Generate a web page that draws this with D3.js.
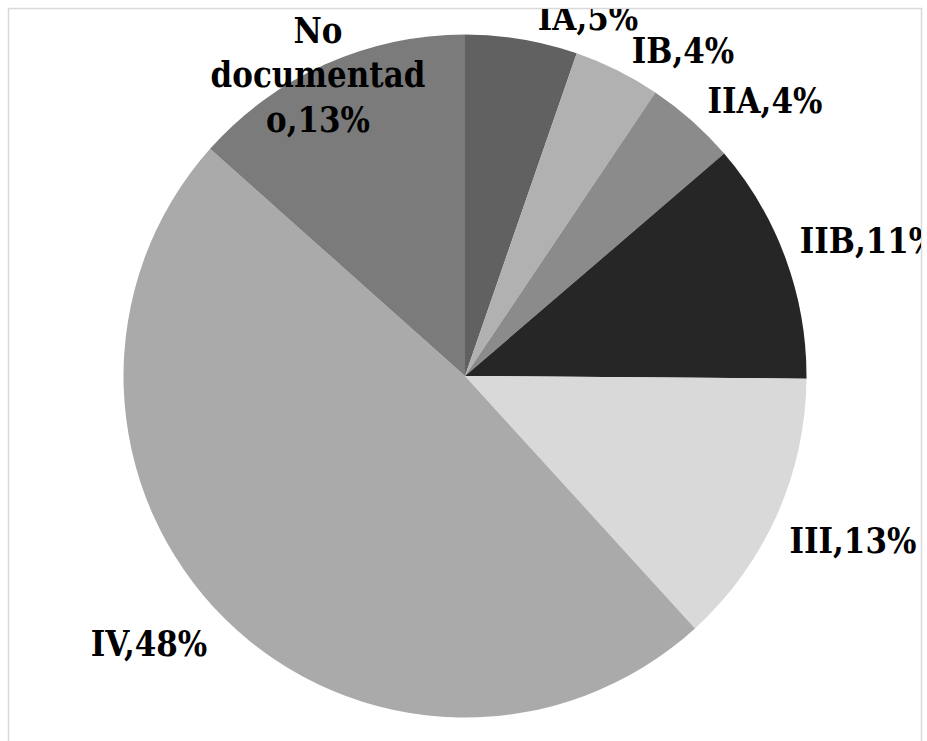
<!DOCTYPE html>
<html>
<head>
<meta charset="utf-8">
<script src="https://cdn.jsdelivr.net/npm/d3@7"></script>
<style>
  body { margin: 0; background: #fff; }
  text { font-family: "DejaVu Serif", serif; font-weight: bold; fill: #000; }
</style>
</head>
<body>
<div id="chart"></div>
<script>
// data (share of cases, %)
var stages = ["IA", "IB", "IIA", "IIB", "III", "IV", "No documentado"];
var shares = [5.3, 4.1, 4.3, 11.4, 13.1, 48.3, 13.4];
var greys  = ["#616161", "#b1b1b1", "#8b8b8b", "#262626", "#d9d9d9", "#aaaaaa", "#7b7b7b"];

var totalWidth = 927, totalHeight = 741;
var cx = 465, cy = 376, radius = 341.5;

var svg = d3.select("#chart")
  .append("svg")
    .attr("width", totalWidth)
    .attr("height", totalHeight);

// chart area frame, labels get clipped at its edges
svg.append("clipPath")
    .attr("id", "area")
  .append("rect")
    .attr("x", 9)
    .attr("y", 9)
    .attr("width", 912)
    .attr("height", 800);

svg.append("rect")
    .attr("x", 8.5)
    .attr("y", 8.5)
    .attr("width", 913)
    .attr("height", 760)
    .attr("fill", "none")
    .attr("stroke", "#d9d9d9")
    .attr("stroke-width", 1.5);

var pie = d3.pie().sort(null).value(function(d) { return d; });
var arcs = pie(shares);
var total = d3.sum(shares);

var arc = d3.arc().innerRadius(0).outerRadius(radius);

var g = svg.append("g")
    .attr("transform", "translate(" + cx + "," + cy + ")");

g.selectAll("path")
  .data(arcs)
  .enter()
.append("path")
  .attr("d", arc)
  .attr("fill", function(d, i) { return greys[i]; });

// label spots (outside end, nudged like the original)
var labelAt = {
  "IA":  [588, 30],
  "IB":  [683, 63],
  "IIA": [765, 113],
  "IIB": [869, 253],
  "III": [853, 553],
  "IV":  [149, 656],
  "No documentado": [318, 43]
};

var labels = svg.append("g").attr("clip-path", "url(#area)");

arcs.forEach(function(d, i) {
  var name = stages[i];
  var pct = Math.round(d.value / total * 100) + "%";
  var pos = labelAt[name];
  // a bit taller than DejaVu, closer to the Cambria look
  var t = labels.append("text")
      .attr("transform", "translate(" + pos[0] + "," + pos[1] + ") scale(1,1.12)")
      .attr("text-anchor", "middle")
      .style("font-size", "31px");
  if (name === "No documentado") {
    // wrapped the way the original breaks it
    var lines = ["No", "documentad", "o," + pct];
    lines.forEach(function(l, k) {
      t.append("tspan")
        .attr("x", 0)
        .attr("dy", k === 0 ? 0 : 44.5 / 1.12)
        .text(l);
    });
  } else {
    t.text(name + "," + pct);
  }
});
</script>
</body>
</html>
